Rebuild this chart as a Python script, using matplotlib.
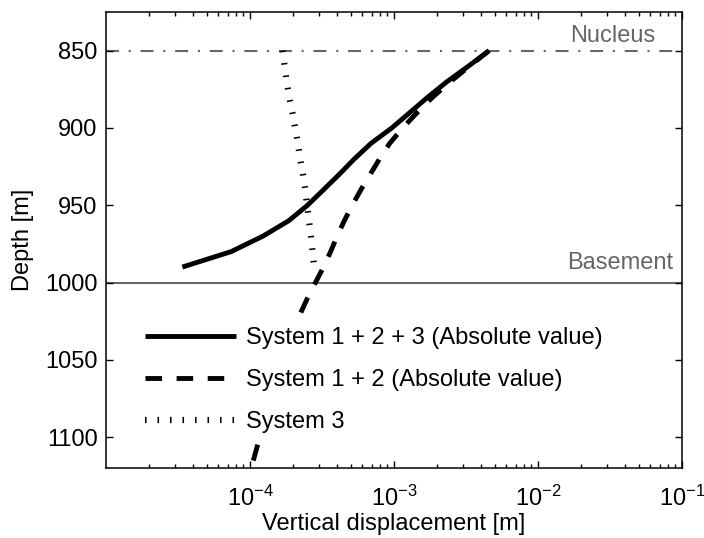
import matplotlib
matplotlib.use("Agg")
import matplotlib.pyplot as plt
from matplotlib.lines import Line2D
from matplotlib.transforms import blended_transform_factory
from matplotlib.ticker import LogLocator, LogFormatterMathtext, NullFormatter

plt.rcParams["font.family"] = ["Liberation Sans", "DejaVu Sans"]
plt.rcParams["mathtext.fontset"] = "custom"
plt.rcParams["mathtext.rm"] = "Liberation Sans"
plt.rcParams["mathtext.it"] = "Liberation Sans:italic"
plt.rcParams["mathtext.bf"] = "Liberation Sans:bold"
plt.rcParams["mathtext.default"] = "regular"

# Vertical displacement [m] versus depth [m]
depth_total = [850, 860, 870, 880, 890, 900, 910, 920, 930, 940, 950, 960, 970, 980, 990]
disp_total = [4.57e-3, 3.29e-3, 2.34e-3, 1.72e-3, 1.29e-3, 9.66e-4, 6.92e-4, 5.31e-4,
              4.17e-4, 3.24e-4, 2.51e-4, 1.86e-4, 1.23e-4, 7.41e-5, 3.39e-5]

depth_s12 = [850, 860, 870, 880, 890, 900, 910, 920, 930, 940, 950, 960, 970, 980, 990,
             1000, 1010, 1020, 1040, 1060, 1080, 1100, 1120]
disp_s12 = [4.57e-3, 3.35e-3, 2.47e-3, 1.86e-3, 1.45e-3, 1.15e-3, 9.33e-4, 7.94e-4,
            6.84e-4, 5.89e-4, 5.13e-4, 4.52e-4, 4.03e-4, 3.63e-4, 3.24e-4,
            2.85e-4, 2.51e-4, 2.24e-4, 1.86e-4, 1.58e-4, 1.35e-4, 1.17e-4, 1.02e-4]

depth_s3 = [850, 860, 870, 880, 890, 900, 910, 920, 930, 940, 950, 960, 970, 980, 990]
disp_s3 = [1.68e-4, 1.74e-4, 1.80e-4, 1.87e-4, 1.97e-4, 2.06e-4, 2.15e-4, 2.23e-4,
           2.33e-4, 2.42e-4, 2.49e-4, 2.57e-4, 2.65e-4, 2.72e-4, 2.79e-4]

labels = ["System 1 + 2 + 3 (Absolute value)", "System 1 + 2 (Absolute value)", "System 3"]

nucleus_depth = 850
basement_depth = 1000

gray = (0.4, 0.4, 0.4)

fig = plt.figure(figsize=(7.04, 5.38), dpi=100)
ax = fig.add_axes([106 / 704, 1 - 468 / 538, 576 / 704, 456 / 538])

dash_style = (0, (3.4, 3.0))
dot_style = (0, (0.25, 1.75))
dashdot_style = (0, (6.2, 4.7, 1.0, 4.7))

ax.axhline(nucleus_depth, color=gray, lw=1.5, linestyle=dashdot_style, zorder=1)
ax.axhline(basement_depth, color=gray, lw=1.5, zorder=1)

ax.plot(disp_total, depth_total, color="black", lw=3.5, solid_capstyle="butt", zorder=3)
ax.plot(disp_s12, depth_s12, color="black", lw=3.5, linestyle=dash_style,
        dash_capstyle="butt", zorder=3)
ax.plot(disp_s3, depth_s3, color="black", lw=4.5, linestyle=dot_style,
        dash_capstyle="butt", zorder=3)

ax.set_xscale("log")
ax.set_xlim(1e-5, 1e-1)
ax.set_ylim(1120, 825)
ax.set_yticks([850, 900, 950, 1000, 1050, 1100])
ax.set_xticks([1e-4, 1e-3, 1e-2, 1e-1])
ax.xaxis.set_major_formatter(LogFormatterMathtext())
ax.xaxis.set_minor_locator(LogLocator(base=10, subs=range(2, 10), numticks=20))
ax.xaxis.set_minor_formatter(NullFormatter())

ax.tick_params(which="both", direction="in", top=True, right=True, labelsize=17,
               width=1.0)
ax.tick_params(axis="y", pad=6)
ax.tick_params(axis="x", pad=12.5)
ax.tick_params(which="major", length=5)
ax.tick_params(which="minor", length=3)
for s in ax.spines.values():
    s.set_linewidth(1.1)

ax.set_xlabel("Vertical displacement [m]", fontsize=17, labelpad=1.5)
ax.set_ylabel("Depth [m]", fontsize=17, labelpad=8)

tr = blended_transform_factory(ax.transAxes, ax.transData)
ax.text(0.953, nucleus_depth - 5.8, "Nucleus", transform=tr, ha="right", va="baseline",
        color=gray, fontsize=17)
ax.text(0.984, basement_depth - 9, "Basement", transform=tr, ha="right", va="baseline",
        color=gray, fontsize=17)

handles = [
    Line2D([], [], color="black", lw=3.5, solid_capstyle="butt"),
    Line2D([], [], color="black", lw=3.5, linestyle=dash_style, dash_capstyle="butt"),
    Line2D([], [], color="black", lw=4.5, linestyle=dot_style, dash_capstyle="butt"),
]
leg = ax.legend(handles, labels, loc="center left", bbox_to_anchor=(0.052, 0.193),
                fontsize=17, frameon=True, fancybox=False, framealpha=1,
                facecolor="white", edgecolor="none", handlelength=3.85,
                handletextpad=0.42, labelspacing=0.85, borderaxespad=0, borderpad=0.4)
leg.set_zorder(5)

fig.savefig("out.png", dpi=100)
